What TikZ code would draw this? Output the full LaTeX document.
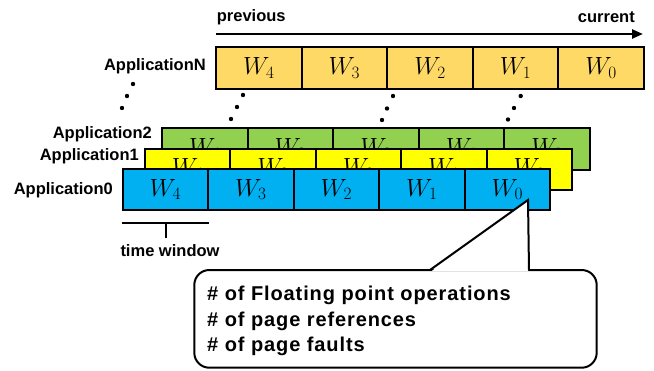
\documentclass[tikz,border=0pt]{standalone}
\usepackage{fontspec}
\setmainfont{Liberation Sans}
\newfontfamily\callfont{Liberation Sans}[LetterSpace=4.5]
\usetikzlibrary{arrows.meta}
\definecolor{rowN}{HTML}{FFD966}
\definecolor{rowG}{HTML}{92D050}
\definecolor{rowY}{HTML}{FFFF00}
\definecolor{rowB}{HTML}{00B0F0}
\tikzset{
  cell/.style={draw=black, line width=2pt, inner sep=0pt, font=\fontsize{23}{26}\selectfont},
  applabel/.style={anchor=east, inner sep=0pt, font=\fontsize{16.5}{18}\selectfont\bfseries},
  txt/.style={inner sep=0pt, font=\fontsize{16.5}{18}\selectfont\bfseries},
  dotmark/.style={fill=black},
  bracket/.style={line width=2pt},
}
\newcommand{\approw}[6]{% name, left, cellwidth, centery, height, color
  \foreach \i [evaluate=\i as \k using int(4-\i)] in {0,...,4}{
    \node[cell, fill=#6, minimum width=#3pt, minimum height=#5pt]
      (#1\i) at ({#2+(\i+0.5)*#3}, #4) {$W_{\k}$};
  }
}
\begin{document}
\begin{tikzpicture}[x=1pt,y=-1pt]
\useasboundingbox (0,0) rectangle (654,370);
% timeline
\node[txt, anchor=west] (prev) at (216.7,17) {previous};
\node[txt, anchor=east] (curr) at (635,17) {current};
\coordinate (tstart) at (216,34);
\coordinate (tend) at (643,34);
\draw[line width=2.4pt, -{Triangle[length=11pt,width=9pt]}] (tstart) -- (tend);
% rows
\approw{n}{216}{85.6}{67.75}{42.5}{rowN}
\approw{g}{162}{85.6}{148.85}{42.3}{rowG}
\approw{y}{145}{85.4}{169.1}{40.8}{rowY}
\approw{b}{122.7}{85.46}{189.5}{41}{rowB}
% labels
\node[applabel] (labN) at (206,66) {ApplicationN};
\node[applabel] (lab2) at (152,134) {Application2};
\node[applabel] (lab1) at (139,156) {Application1};
\node[applabel] (lab0) at (113,190) {Application0};
% dots
\foreach \p in {(133,84),(127,96),(122,108),
                (243,95),(237,107),(231,119),
                (393,96),(387,108.5),(382,120),
                (520.7,96),(514,108),(508,119.5)}
  \fill[dotmark] \p circle (2.2pt);
% time window bracket
\coordinate (brL) at (122,222.7);
\coordinate (brR) at (209.3,222.7);
\coordinate (brM) at (165.7,222.7);
\coordinate (brT) at (165.7,238);
\draw[bracket] (brL) -- (brR);
\draw[bracket] (brM) -- (brT);
\node[txt] (tw) at (170,250.7) {time window};
% callout
\node[draw=black, line width=2pt, fill=white, rounded corners=15pt,
      minimum width=402.4pt, minimum height=97.7pt, inner sep=0pt]
      (callout) at (395.5,318.85) {};
\coordinate (tip) at (528,200);
\coordinate (baseL) at (430,270);
\coordinate (baseR) at (529,270);
\fill[white] (431.5,271.2) -- (tip) -- (528.2,271.2) -- cycle;
\draw[line width=2pt, line join=miter] (baseL) -- (tip) -- (baseR);
\node[anchor=west, inner sep=0pt, align=left,
      font=\fontsize{20}{25.3}\callfont\bfseries] (ctext) at (207,321)
  {\# of Floating point operations\\\# of page references\\\# of page faults};
\end{tikzpicture}
\end{document}
